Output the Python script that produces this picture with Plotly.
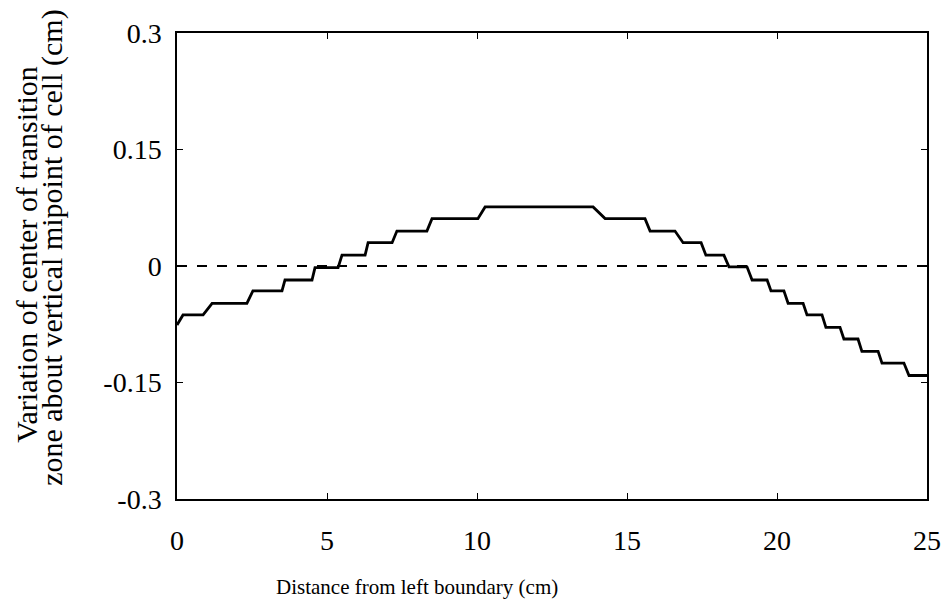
import plotly.graph_objects as go

# --- data ---
distance_cm = [0, 0.2, 0.87, 1.17, 2.33, 2.53, 3.5, 3.6, 4.5, 4.6, 5.37, 5.5, 6.27, 6.37,
               7.17, 7.33, 8.33, 8.5, 10.03, 10.27, 13.87, 14.27, 15.6, 15.77, 16.6, 16.87,
               17.47, 17.63, 18.23, 18.4, 19.0, 19.17, 19.67, 19.8, 20.23, 20.37, 20.87,
               21.0, 21.5, 21.63, 22.1, 22.23, 22.7, 22.83, 23.37, 23.5, 24.23, 24.4, 25.0]
variation_cm = [-0.076, -0.063, -0.063, -0.048, -0.048, -0.032, -0.032, -0.018, -0.018,
                -0.002, -0.002, 0.014, 0.014, 0.030, 0.030, 0.045, 0.045, 0.061, 0.061,
                0.076, 0.076, 0.061, 0.061, 0.045, 0.045, 0.030, 0.030, 0.014, 0.014,
                -0.001, -0.001, -0.018, -0.018, -0.032, -0.032, -0.048, -0.048, -0.063,
                -0.063, -0.079, -0.079, -0.094, -0.094, -0.11, -0.11, -0.125, -0.125,
                -0.141, -0.141]
midpoint_x = [0, 25]
midpoint_y = [0, 0]

x_ticks = [0, 5, 10, 15, 20, 25]
y_ticks = [0.3, 0.15, 0, -0.15, -0.3]
y_ticktext = ["0.3", "0.15", "0", "-0.15", "-0.3"]

font_family = "Liberation Serif"

fig = go.Figure()
fig.add_trace(go.Scatter(x=midpoint_x, y=midpoint_y, mode="lines",
                         line=dict(color="black", width=2, dash="10px,10px"),
                         showlegend=False, hoverinfo="skip"))
fig.add_trace(go.Scatter(x=distance_cm, y=variation_cm, mode="lines",
                         line=dict(color="black", width=2.8),
                         showlegend=False))

axis_style = dict(showline=True, linecolor="black", linewidth=1.5, mirror="ticks",
                  ticks="inside", ticklen=6, tickcolor="black", showgrid=False,
                  zeroline=False, automargin=False,
                  tickfont=dict(family=font_family, size=28, color="black"))

# page body has an 8px margin, so margins are trimmed to land the plot box
# at the same pixels as the reference
fig.update_layout(
    width=944, height=595, autosize=False,
    margin=dict(l=169, r=25, t=25, b=104),
    paper_bgcolor="white", plot_bgcolor="white",
    font=dict(family=font_family, color="black"),
    xaxis=dict(range=[0, 25], tickvals=x_ticks, ticklabelstandoff=16, **axis_style),
    yaxis=dict(range=[-0.3, 0.3], tickvals=y_ticks, ticktext=y_ticktext, ticklabelstandoff=8,
               **axis_style),
    annotations=[
        dict(text="Distance from left boundary (cm)", xref="paper", yref="paper",
             x=0, y=0, xshift=240, yshift=-88, xanchor="center", yanchor="middle",
             showarrow=False, font=dict(family=font_family, size=21, color="black")),
        dict(text="Variation of center of transition",
             xref="paper", yref="paper", x=0, y=0.524, xshift=-150,
             xanchor="center", yanchor="middle", textangle=-90, showarrow=False,
             font=dict(family=font_family, size=30, color="black")),
        dict(text="zone about vertical mipoint of cell (cm)",
             xref="paper", yref="paper", x=0, y=0.539, xshift=-125,
             xanchor="center", yanchor="middle", textangle=-90, showarrow=False,
             font=dict(family=font_family, size=30, color="black")),
    ],
)

fig.write_html("out.html")
